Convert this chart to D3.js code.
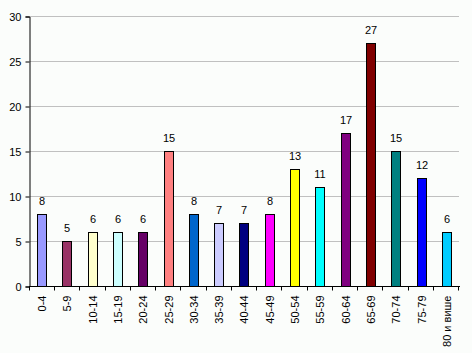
<!DOCTYPE html>
<html><head><meta charset="utf-8">
<script src="https://cdn.jsdelivr.net/npm/d3@7"></script>
<style>body{margin:0;background:#fbfdfb;}svg{display:block;font-family:"Liberation Sans",Arial,sans-serif;}</style>
</head><body>
<svg id="c" width="472" height="353"></svg>
<script>
const categories = ["0-4","5-9","10-14","15-19","20-24","25-29","30-34","35-39","40-44","45-49","50-54","55-59","60-64","65-69","70-74","75-79","80 и више"];
const values = [8,5,6,6,6,15,8,7,7,8,13,11,17,27,15,12,6];
const colors = ["#9999FF","#993366","#FFFFCC","#CCFFFF","#660066","#FF8080","#0066CC","#CCCCFF","#000080","#FF00FF","#FFFF00","#00FFFF","#800080","#800000","#008080","#0000FF","#00CCFF"];
const yTicks = [0,5,10,15,20,25,30];

const svg = d3.select("#c");
svg.append("rect").attr("width",472).attr("height",353).attr("fill","#fbfdfb");
const L=30, R=459, T=16, B=286;
const x = d3.scaleBand().domain(categories).range([L-1,R]).paddingInner(0.64).paddingOuter(0.32);
const y = d3.scaleLinear().domain([0,30]).range([B,T]);

// gridlines
svg.append("g").selectAll("line").data(yTicks.filter(d=>d>0)).join("line")
  .attr("x1",L).attr("x2",R).attr("y1",d=>y(d)+0.5).attr("y2",d=>y(d)+0.5)
  .attr("stroke","#c0c0c0").attr("stroke-width",1);

// bars
svg.append("g").selectAll("rect").data(values).join("rect")
  .attr("x",(d,i)=>Math.round(x(categories[i]))+0.5)
  .attr("y",d=>Math.round(y(d))+0.5)
  .attr("width",9)
  .attr("height",d=>B-Math.round(y(d)))
  .attr("fill",(d,i)=>colors[i]).attr("stroke","#000").attr("stroke-width",1);

// value labels
svg.append("g").selectAll("text").data(values).join("text")
  .attr("x",(d,i)=>Math.round(x(categories[i]))+5)
  .attr("y",d=>y(d)-9)
  .attr("text-anchor","middle").attr("font-size",11).attr("fill","#000")
  .text(d=>d);

// y axis
const ya = d3.axisLeft(y).tickValues(yTicks).tickSize(4).tickPadding(4);
svg.append("g").attr("transform",`translate(${L-0.5},0.5)`).call(ya)
  .call(g=>{g.select(".domain").attr("stroke","#000");g.selectAll("line").attr("stroke","#000");
    g.selectAll("text").attr("font-size",11).attr("font-family","Liberation Sans, Arial, sans-serif").attr("fill","#000").attr("dy","0.35em");});

// x axis
const xb = d3.scaleLinear().domain([0,categories.length]).range([L,R]);
const gx = svg.append("g").attr("transform",`translate(0,${B+0.5})`);
gx.append("line").attr("x1",L-1).attr("x2",R+1).attr("y1",0).attr("y2",0).attr("stroke","#000");
gx.selectAll("line.t").data(d3.range(categories.length+1)).join("line").attr("class","t")
  .attr("x1",d=>Math.round(xb(d))-0.5).attr("x2",d=>Math.round(xb(d))-0.5).attr("y1",0).attr("y2",4).attr("stroke","#000");
gx.selectAll("text").data(categories).join("text")
  .attr("transform",d=>`translate(${Math.round(x(d))+9},9) rotate(-90)`)
  .attr("text-anchor","end").attr("font-size",11).attr("fill","#000")
  .text(d=>d);
</script>
</body></html>
